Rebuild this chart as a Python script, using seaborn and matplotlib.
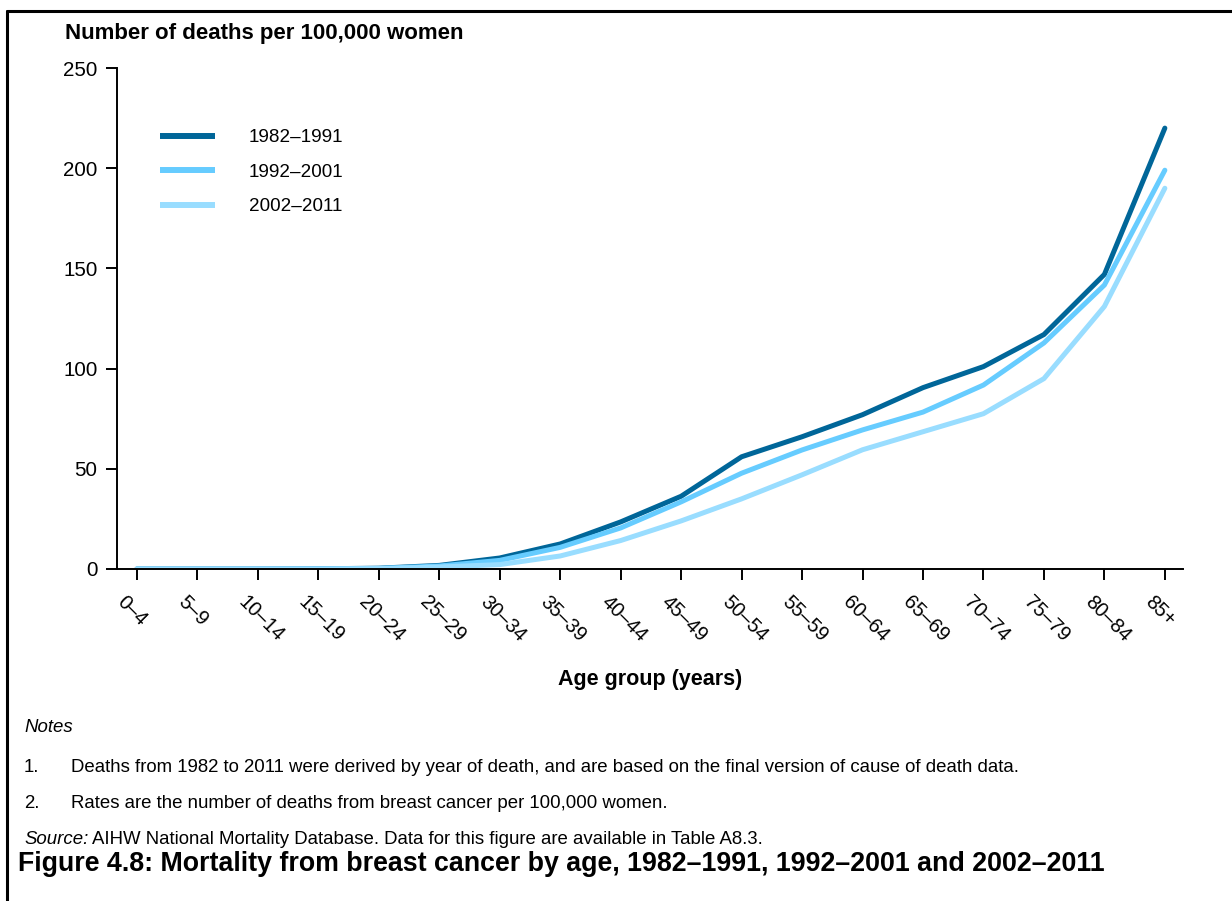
import matplotlib
matplotlib.use("Agg")
import matplotlib.pyplot as plt
import matplotlib.transforms as mtransforms
from matplotlib.lines import Line2D
import seaborn as sns
import pandas as pd

age_groups = ['0–4', '5–9', '10–14', '15–19', '20–24', '25–29', '30–34', '35–39',
              '40–44', '45–49', '50–54', '55–59', '60–64', '65–69', '70–74',
              '75–79', '80–84', '85+']
rates_1982_1991 = [0, 0, 0, 0.1, 0.4, 1.8, 5.5, 12.5, 23.5, 36.3, 56, 66, 77, 90.5, 101, 117, 147, 220]
rates_1992_2001 = [0, 0, 0, 0.1, 0.3, 1.5, 4.3, 10.8, 20.5, 33.5, 47.8, 59.4, 69.4, 78.3, 91.8, 112.8, 141.7, 199]
rates_2002_2011 = [0, 0, 0, 0, 0.2, 1.0, 2.2, 6.5, 14.2, 24, 35, 47, 59.5, 68.5, 77.5, 95, 131, 190]
periods = ['1982–1991', '1992–2001', '2002–2011']
colours = ['#006699', '#66CCFF', '#99DDFF']

df = pd.concat([
    pd.DataFrame({'age': age_groups, 'rate': r, 'period': p})
    for p, r in zip(periods, [rates_1982_1991, rates_1992_2001, rates_2002_2011])
], ignore_index=True)

sns.set_style('white')
plt.rcParams['font.family'] = ['Liberation Sans', 'DejaVu Sans']
for k in ['text.color', 'axes.labelcolor', 'xtick.color', 'ytick.color']:
    plt.rcParams[k] = 'black'

W, H = 1232, 901
fig = plt.figure(figsize=(W / 100, H / 100), dpi=100)
ax = fig.add_axes([117 / W, 1 - 569 / H, (1183 - 117) / W, (569 - 68) / H])

sns.lineplot(data=df, x='age', y='rate', hue='period', palette=colours,
             sort=False, errorbar=None, linewidth=3.6, ax=ax)

ax.set_ylim(0, 250)
ax.set_yticks([0, 50, 100, 150, 200, 250])
ax.set_xlim(-0.33, 17.3)
ax.set_xlabel('Age group (years)', fontsize=15.5, fontweight='bold')
ax.xaxis.set_label_coords(0.5, -(680 - 569) / 501)
ax.xaxis.label.set_va('center')
ax.set_ylabel('')
for s in ['top', 'right']:
    ax.spines[s].set_visible(False)
for s in ['left', 'bottom']:
    ax.spines[s].set_color('black')
    ax.spines[s].set_linewidth(1.4)
ax.tick_params(axis='both', direction='out', length=8, width=1.4, color='black',
               labelsize=14.8, left=True, bottom=True)
ax.tick_params(axis='y', pad=6)
ax.tick_params(axis='x', pad=6)
shift = mtransforms.ScaledTranslation(-10 / 100, -4 / 100, fig.dpi_scale_trans)
for lab in ax.get_xticklabels():
    lab.set_rotation(-45)
    lab.set_ha('left')
    lab.set_va('top')
    lab.set_rotation_mode('anchor')
    lab.set_fontsize(14.5)
    lab.set_transform(lab.get_transform() + shift)

handles, labels = ax.get_legend_handles_labels()
leg = ax.legend(handles, labels, loc='upper left', frameon=False, fontsize=13.6,
                bbox_to_anchor=(160 / W, 1 - 129 / H), bbox_transform=fig.transFigure,
                borderaxespad=0, borderpad=0, handlelength=2.9, handletextpad=1.8,
                labelspacing=0.92)
for h in leg.get_lines():
    h.set_linewidth(4.3)
    h.set_solid_capstyle('butt')

fig.text(65 / W, 1 - 33 / H, 'Number of deaths per 100,000 women', fontsize=16,
         fontweight='bold', ha='left', va='center')

# notes block
fs_note = 13.4
fig.text(24 / W, 1 - 727 / H, 'Notes', fontsize=fs_note, style='italic', va='center')
fig.text(24 / W, 1 - 767 / H, '1.', fontsize=fs_note, va='center')
fig.text(71 / W, 1 - 767 / H,
         'Deaths from 1982 to 2011 were derived by year of death, and are based on the final version of cause of death data.',
         fontsize=fs_note, va='center')
fig.text(24 / W, 1 - 803 / H, '2.', fontsize=fs_note, va='center')
fig.text(71 / W, 1 - 803 / H,
         'Rates are the number of deaths from breast cancer per 100,000 women.',
         fontsize=fs_note, va='center')
src = fig.text(24 / W, 1 - 840 / H, 'Source:', fontsize=fs_note, style='italic', va='center')
renderer = fig.canvas.get_renderer()
bb = src.get_window_extent(renderer)
fig.text((bb.x1 + 4) / W, 1 - 840 / H,
         'AIHW National Mortality Database. Data for this figure are available in Table A8.3.',
         fontsize=fs_note, va='center')
fig.text(18 / W, 1 - 864 / H,
         'Figure 4.8: Mortality from breast cancer by age, 1982–1991, 1992–2001 and 2002–2011',
         fontsize=19.3, fontweight='bold', va='center')

# page frame (top and left edges)
fig.add_artist(Line2D([7 / W, 1], [1 - 11 / H, 1 - 11 / H], transform=fig.transFigure,
                      color='black', linewidth=2.2))
fig.add_artist(Line2D([7 / W, 7 / W], [0, 1 - 11 / H], transform=fig.transFigure,
                      color='black', linewidth=2.2))

fig.savefig('out.png', dpi=100)
